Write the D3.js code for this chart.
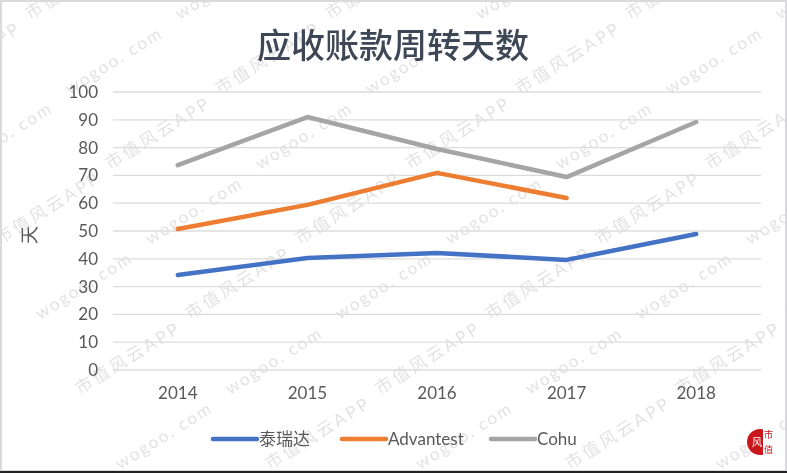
<!DOCTYPE html>
<html>
<head>
<meta charset="utf-8">
<script src="https://cdn.jsdelivr.net/npm/d3@7"></script>
<style>
  body { margin: 0; background: #fff; }
  svg { display: block; font-family: Lato, "Noto Sans CJK SC", sans-serif; }
</style>
</head>
<body>
<div id="chart"></div>
<script>
// Chart data
const years = ["2014", "2015", "2016", "2017", "2018"];
const teradyne = [34.2, 40.3, 42.1, 39.6, 48.9];
const advantest = [50.7, 59.4, 70.9, 61.9, null];
const cohu = [73.7, 91.0, 79.5, 69.4, 89.2];
const seriesNames = ["泰瑞达", "Advantest", "Cohu"];
const yTicks = [0, 10, 20, 30, 40, 50, 60, 70, 80, 90, 100];

const WIDTH = 787;
const HEIGHT = 473;
const COLORS = ["#4472C4", "#ED7D31", "#A5A5A5"];

const svg = d3.select("#chart")
  .append("svg")
  .attr("width", WIDTH)
  .attr("height", HEIGHT);

// Watermark layer
const wm = svg.append("g").attr("fill", "#d6d6d6").attr("opacity", 0.7)
  .style("font-size", "17px");
for (let r = -2; r < 8; r++) {
  for (let c = -1; c < 7; c++) {
    const x = c * 150 + r * 40 + 30;
    const y = r * 75 + 20;
    wm.append("text")
      .attr("transform", `translate(${x},${y}) rotate(-32)`)
      .style("letter-spacing", (r + c) % 2 === 0 ? "3px" : "2px")
      .text((r + c) % 2 === 0 ? "市值风云APP" : "wogoo. com");
  }
}

// Frame
svg.append("rect")
  .attr("x", 1).attr("y", 1)
  .attr("width", WIDTH - 2).attr("height", HEIGHT - 3)
  .attr("fill", "none").attr("stroke", "#d9d9de").attr("stroke-width", 2);
svg.append("line")
  .attr("x1", 0).attr("x2", WIDTH).attr("y1", 472).attr("y2", 472)
  .attr("stroke", "#222").attr("stroke-width", 2);

// Scales
const x = d3.scaleBand().domain(years).range([113, 761]);
const y = d3.scaleLinear().domain([0, 100]).range([370, 92]);

// Gridlines
svg.append("g")
  .selectAll("line")
  .data(yTicks)
  .join("line")
  .attr("x1", 113).attr("x2", 761)
  .attr("y1", d => y(d)).attr("y2", d => y(d))
  .attr("stroke", "#dcdcdc").attr("stroke-width", 1.3);

// Y axis labels
const yAxis = svg.append("g")
  .attr("transform", "translate(98,0)")
  .call(d3.axisLeft(y).tickValues(yTicks).tickSize(0).tickPadding(0));
yAxis.select(".domain").remove();
yAxis.selectAll("text")
  .attr("fill", "#595959")
  .style("font-size", "17px")
  .style("font-family", "Lato, sans-serif");

// X axis labels
const xAxis = svg.append("g")
  .attr("transform", "translate(0,370)")
  .call(d3.axisBottom(x).tickSize(0).tickPadding(17));
xAxis.select(".domain").remove();
xAxis.selectAll("text")
  .attr("fill", "#595959")
  .style("font-size", "17px")
  .style("font-family", "Lato, sans-serif");

// Y axis title
svg.append("text")
  .attr("transform", "translate(36,235) rotate(-90)")
  .attr("text-anchor", "middle")
  .attr("fill", "#595959")
  .style("font-size", "18px")
  .style("font-family", "'Noto Sans CJK SC'")
  .text("天");

// Title
svg.append("text")
  .attr("x", 393).attr("y", 58)
  .attr("text-anchor", "middle")
  .attr("fill", "#3e4756")
  .style("font-size", "34px")
  .style("font-weight", 500)
  .style("font-family", "'Noto Sans CJK SC'")
  .text("应收账款周转天数");

// Lines
const seriesData = [teradyne, advantest, cohu];
const line = d3.line()
  .defined(d => d != null)
  .x((d, i) => x(years[i]) + x.bandwidth() / 2)
  .y(d => y(d));

svg.append("g")
  .selectAll("path")
  .data(seriesData)
  .join("path")
  .attr("d", d => line(d))
  .attr("fill", "none")
  .attr("stroke", (d, i) => COLORS[i])
  .attr("stroke-width", 4.5)
  .attr("stroke-linecap", "round")
  .attr("stroke-linejoin", "round");

// Legend
const legendX = [213, 342, 491];
const legend = svg.append("g")
  .selectAll("g")
  .data(seriesNames)
  .join("g")
  .attr("transform", (d, i) => `translate(${legendX[i]},439)`);
legend.append("line")
  .attr("x1", 0).attr("x2", 44)
  .attr("stroke", (d, i) => COLORS[i])
  .attr("stroke-width", 4.5)
  .attr("stroke-linecap", "round");
legend.append("text")
  .attr("x", 46).attr("y", 6)
  .attr("fill", "#595959")
  .style("font-size", "17px")
  .text(d => d);

// Corner logo
const logo = svg.append("g").attr("transform", "translate(760,442)");
logo.append("circle").attr("r", 13).attr("fill", "#c9161c");
logo.append("rect").attr("x", 3).attr("y", -14).attr("width", 14).attr("height", 28).attr("fill", "#fff");
logo.append("text").attr("x", -8).attr("y", 4).attr("fill", "#fff")
  .style("font-size", "10px").style("font-family", "'Noto Sans CJK SC'").text("风");
logo.append("text").attr("x", 4).attr("y", -4).attr("fill", "#c9161c")
  .style("font-size", "9px").style("font-family", "'Noto Sans CJK SC'").text("市");
logo.append("text").attr("x", 4).attr("y", 11).attr("fill", "#c9161c")
  .style("font-size", "9px").style("font-family", "'Noto Sans CJK SC'").text("值");
</script>
</body>
</html>
